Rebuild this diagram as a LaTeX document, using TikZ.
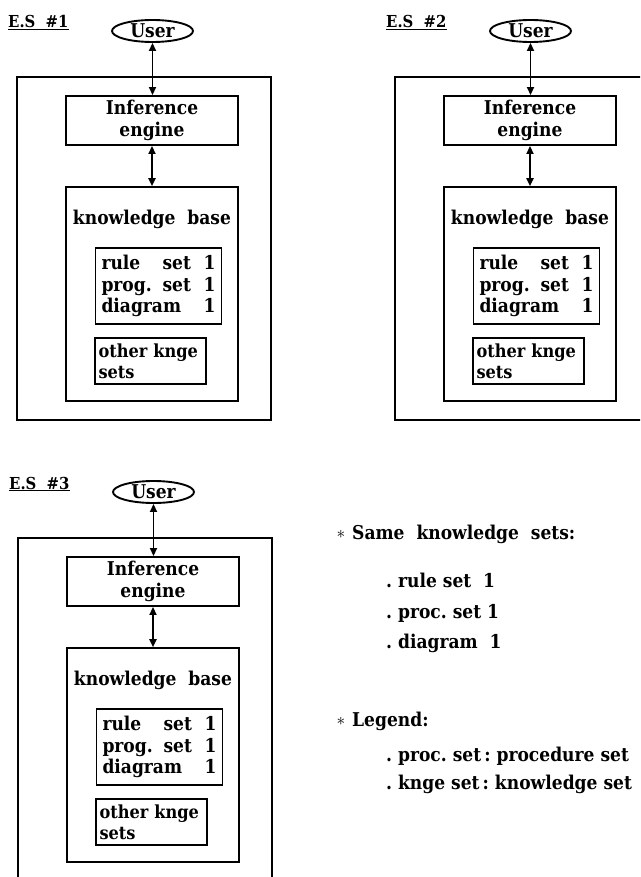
\documentclass[tikz,border=0pt]{standalone}
\usepackage{fontspec}
\setmainfont{DejaVu Serif}[FakeStretch=0.9]
\usetikzlibrary{shapes.geometric,arrows.meta}
\tikzset{
  every node/.style={font=\fontsize{19}{21.5}\selectfont\bfseries, inner sep=0pt},
  outerbox/.style={line width=2.6pt},
  box/.style={draw, rectangle, line width=1.9pt},
  thinbox/.style={draw, rectangle, line width=1.6pt},
  userell/.style={draw, ellipse, line width=1.9pt, minimum width=81pt, minimum height=22pt},
  link/.style={line width=1.8pt, {Triangle[length=8pt,width=7pt]}-{Triangle[length=8pt,width=7pt]}},
  lbl/.style={anchor=base west, font=\fontsize{16.5}{19}\selectfont\bfseries},
  txt/.style={anchor=base west},
}
\begin{document}
\begin{tikzpicture}[x=1pt,y=-1pt]
\useasboundingbox[fill=white] (0,0) rectangle (640,877);
\clip (0,0) rectangle (640,877);
\foreach \i/\dx/\dy in {1/0/0,2/378/0,3/1/461}{
  \begin{scope}[shift={(\dx,\dy)}]
    \node[lbl] (lab\i) at (8,28) {\underline{E.S\ \ \#\i}};
    \node[userell] (user\i) at (152.5,31) {User};
    \draw[outerbox] (17,77) rectangle (271,420);
    \node[box, minimum width=172pt, minimum height=49pt, align=center] (ie\i) at (152,120.5) {Inference\\engine};
    \node[thinbox, minimum width=172pt, minimum height=214pt] (kb\i) at (152,294) {};
    \node (kbt\i) at (152,219) {knowledge\ \ base};
    \node[box, minimum width=126pt, minimum height=76pt, text width=114pt, align=left] (rs\i) at (158.5,286)
      {rule\hfill set\ \ 1\\prog.\hfill set\ \ 1\\diagram\hfill 1};
    \node[box, minimum width=111pt, minimum height=46pt, text width=104pt, align=left,
      font=\fontsize{18}{21}\selectfont\bfseries] (ok\i) at (150.5,361) {other knge\\sets};
    \draw[link] (user\i.south) -- (user\i.south |- ie\i.north);
    \draw[link] (ie\i.south) -- (ie\i.south |- kb\i.north);
  \end{scope}
}
\node (st1) at (341,534) {$\ast$};
\node[txt] (same) at (352,539) {Same\ \ knowledge\ \ sets:};
\node[txt] (it1) at (386,587) {.\ rule set\ \ 1};
\node[txt] (it2) at (386,618) {.\ proc.\ set 1};
\node[txt] (it3) at (386,648) {.\ diagram\ \ 1};
\node (st2) at (341,721) {$\ast$};
\node[txt] (leg) at (352,726) {Legend:};
\node[txt] (lg1) at (386,761) {.\ proc.\ set\,:\ procedure set};
\node[txt] (lg2) at (386,789) {.\ knge set\,:\ knowledge set};
\end{tikzpicture}
\end{document}
